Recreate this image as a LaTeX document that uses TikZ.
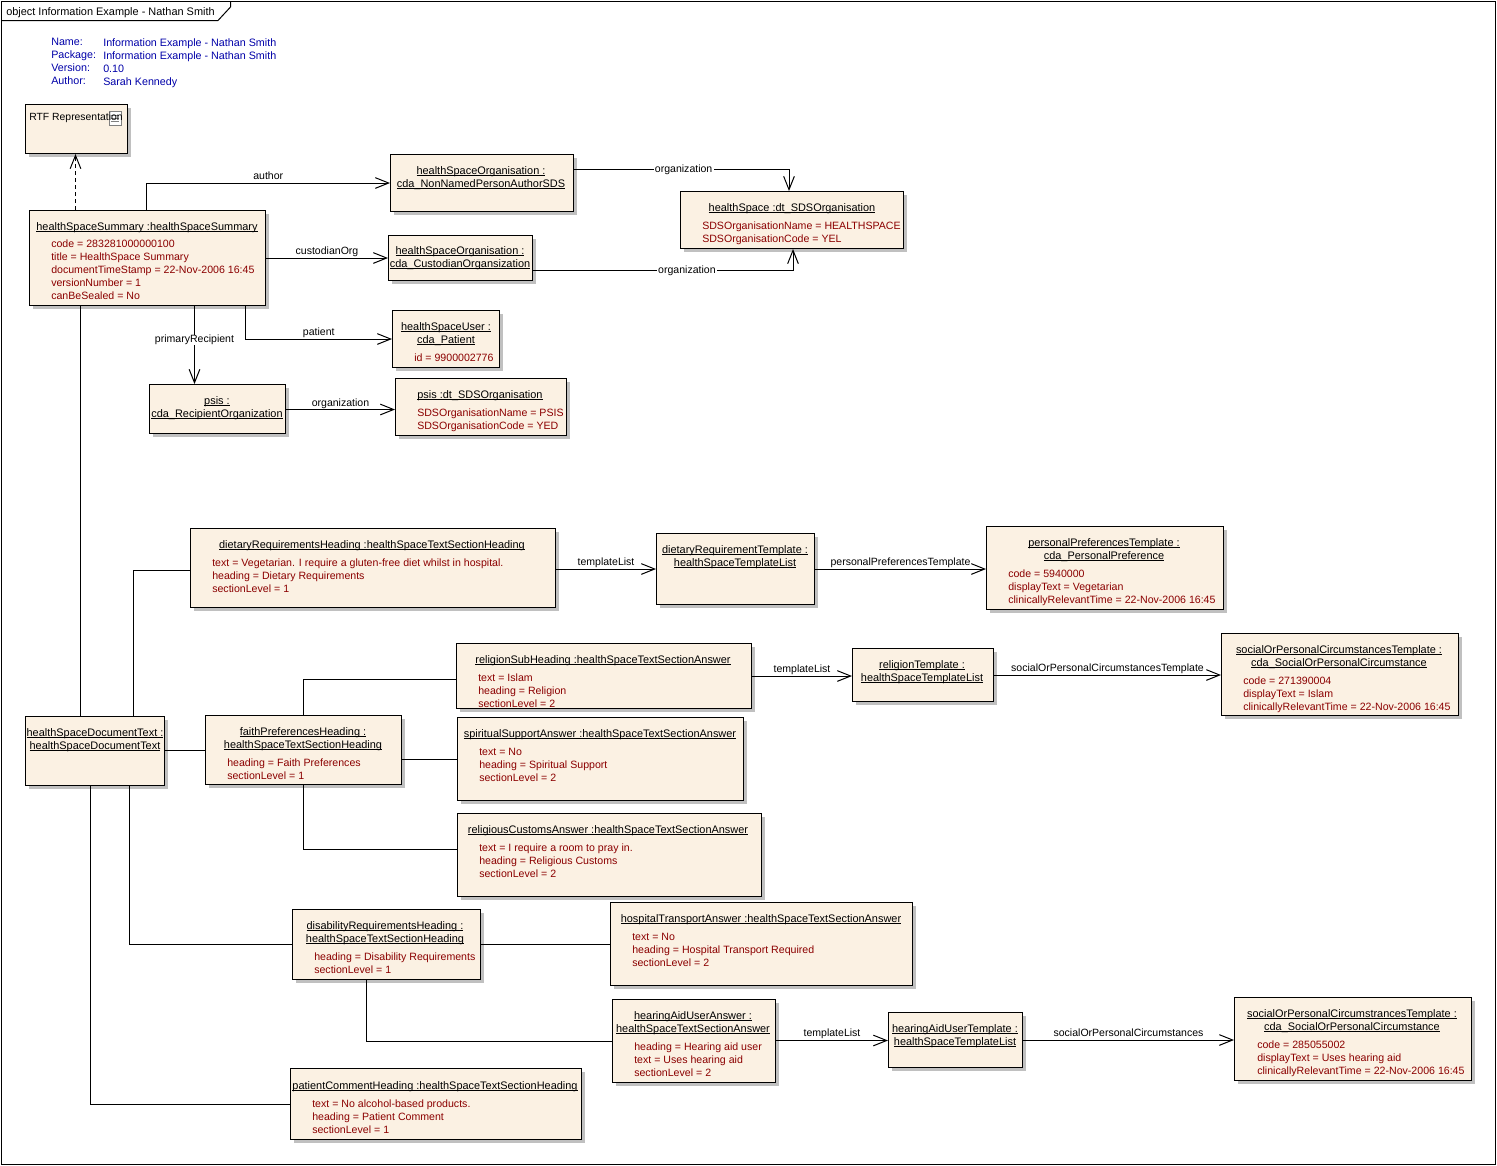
\documentclass[tikz,border=0pt]{standalone}
\usepackage{fontspec}
\setmainfont{Liberation Sans}
\usepackage{xcolor}
\usetikzlibrary{arrows.meta,shadows}
\definecolor{boxfill}{HTML}{FBF1E3}
\definecolor{boxshadow}{HTML}{C0C0C0}
\definecolor{attrred}{HTML}{8B0000}
\definecolor{infoblue}{HTML}{0000A8}
\newcommand{\uname}[1]{\sbox0{#1}\rlap{\rule[-1.6pt]{\wd0}{0.75pt}}\usebox0}
\tikzset{
  objbox/.style 2 args={draw, fill=boxfill, anchor=north west, line width=0.75pt,
    minimum width=0.75pt*(#1-1), minimum height=0.75pt*(#2-1),
    general shadow={shadow xshift=2.25pt, shadow yshift=-2.25pt, fill=boxshadow}},
  objname/.style={anchor=north, align=center, inner sep=0pt, execute at begin node=\vphantom{Ag}},
  objattr/.style={anchor=north west, align=left, inner sep=0pt, text=attrred, yshift=-0.6pt,
    font=\fontsize{7.95}{9.75}\selectfont, execute at begin node=\vphantom{Ag}, execute at end node=\vphantom{Ag}},
  info/.style={anchor=north west, align=left, inner sep=0pt, text=infoblue,
    font=\fontsize{8.05}{9.75}\selectfont, execute at begin node=\vphantom{Ag}, execute at end node=\vphantom{Ag}},
  lblabove/.style={above=0.8pt, inner sep=0pt, text height=6pt, text depth=1.5pt, font=\fontsize{7.9}{9.75}\selectfont},
  lblon/.style={fill=white, inner xsep=1pt, inner ysep=0pt, yshift=-0.3pt, text height=6pt, text depth=1.5pt, font=\fontsize{7.9}{9.75}\selectfont},
  conn/.style={line width=0.75pt}
}
\begin{document}
\begin{tikzpicture}[x=0.75pt, y=-0.75pt, >={Straight Barb[length=10pt,width=8pt]},
    every node/.append style={font=\fontsize{8.2}{9.75}\selectfont}]
	\useasboundingbox (0,0) rectangle (1497,1165);
	% frame and tab
	\draw[conn] (1.5,1.5) rectangle (1495.5,1164);
	\draw[conn] (1.5,20.5) -- (218,20.5) -- (230.5,7) -- (230.5,1.5);
	\node (frameName) [anchor=north west, inner sep=0pt, execute at begin node=\vphantom{Ag}] at (6,7) {object Information Example - Nathan Smith};
	\node (infoKeys) [info] at (51,38) {Name:\\Package:\\Version:\\Author:};
	\node (infoVals) [info] at (103,38) {Information Example - Nathan Smith\\Information Example - Nathan Smith\\0.10\\Sarah Kennedy};

	% upper objects
	\node (rtf) [objbox={103}{50}] at (25,104) {};
	\node (rtfIcon) [draw=gray, fill=white, line width=0.75pt, minimum width=9.5pt, minimum height=10.5pt, inner sep=0pt] at (115.5,118.3) {};
	\draw[gray] (rtfIcon.west)++(1.5pt,-2pt) -- ++(6.5pt,0) (rtfIcon.west)++(1.5pt,0pt) -- ++(6.5pt,0) (rtfIcon.west)++(1.5pt,2pt) -- ++(6.5pt,0);
	\node (rtfT) [anchor=north west, inner sep=0pt, font=\fontsize{7.8}{9.75}\selectfont, execute at begin node=\vphantom{Ag}] at (29,113) {RTF Representation};

	\node (summary) [objbox={237}{96}] at (29,210) {};
	\node (summaryT) [objname] at (147,222) {\uname{healthSpaceSummary :healthSpaceSummary}};
	\node (summaryA) [objattr] at (51,239) {code = 283281000000100\\title = HealthSpace Summary\\documentTimeStamp = 22-Nov-2006 16:45\\versionNumber = 1\\canBeSealed = No};

	\node (orgAuthor) [objbox={184}{58}] at (390,154) {};
	\node (orgAuthorT) [objname] at (481,166) {\uname{healthSpaceOrganisation :}\\\uname{cda\_NonNamedPersonAuthorSDS}};

	\node (orgCust) [objbox={145}{46}] at (388,235) {};
	\node (orgCustT) [objname] at (460,246) {\uname{healthSpaceOrganisation :}\\\uname{cda\_CustodianOrgansization}};

	\node (sdsHealth) [objbox={224}{58}] at (680,191) {};
	\node (sdsHealthT) [objname] at (792,203) {\uname{healthSpace :dt\_SDSOrganisation}};
	\node (sdsHealthA) [objattr] at (702,221) {SDSOrganisationName = HEALTHSPACE\\SDSOrganisationCode = YEL};

	\node (hsUser) [objbox={108}{58}] at (392,310) {};
	\node (hsUserT) [objname] at (446,322) {\uname{healthSpaceUser :}\\\uname{cda\_Patient}};
	\node (hsUserA) [objattr] at (414,353) {id = 9900002776};

	\node (psis) [objbox={137}{50}] at (149,384) {};
	\node (psisT) [objname] at (217,396) {\uname{psis :}\\\uname{cda\_RecipientOrganization}};

	\node (sdsPsis) [objbox={172}{58}] at (395,378) {};
	\node (sdsPsisT) [objname] at (480,390) {\uname{psis :dt\_SDSOrganisation}};
	\node (sdsPsisA) [objattr] at (417,408) {SDSOrganisationName = PSIS\\SDSOrganisationCode = YED};

	% dietary row
	\node (dietary) [objbox={366}{80}] at (190,528) {};
	\node (dietaryT) [objname] at (372,540) {\uname{dietaryRequirementsHeading :healthSpaceTextSectionHeading}};
	\node (dietaryA) [objattr] at (212,558) {text = Vegetarian. I require a gluten-free diet whilst in hospital.\\heading = Dietary Requirements\\sectionLevel = 1};

	\node (dietaryTpl) [objbox={159}{72}] at (656,533) {};
	\node (dietaryTplT) [objname] at (735,545) {\uname{dietaryRequirementTemplate :}\\\uname{healthSpaceTemplateList}};

	\node (personal) [objbox={238}{84}] at (986,526) {};
	\node (personalT) [objname] at (1104,538) {\uname{personalPreferencesTemplate :}\\\uname{cda\_PersonalPreference}};
	\node (personalA) [objattr] at (1008,569) {code = 5940000\\displayText = Vegetarian\\clinicallyRelevantTime = 22-Nov-2006 16:45};

	% faith group
	\node (religionSub) [objbox={296}{66}] at (456,643) {};
	\node (religionSubT) [objname] at (603,655) {\uname{religionSubHeading :healthSpaceTextSectionAnswer}};
	\node (religionSubA) [objattr] at (478,673) {text = Islam\\heading = Religion\\sectionLevel = 2};

	\node (religionTpl) [objbox={142}{54}] at (852,648) {};
	\node (religionTplT) [objname] at (922,660) {\uname{religionTemplate :}\\\uname{healthSpaceTemplateList}};

	\node (socialA) [objbox={238}{83}] at (1221,633) {};
	\node (socialAT) [objname] at (1339,645) {\uname{socialOrPersonalCircumstancesTemplate :}\\\uname{cda\_SocialOrPersonalCircumstance}};
	\node (socialAA) [objattr] at (1243,676) {code = 271390004\\displayText = Islam\\clinicallyRelevantTime = 22-Nov-2006 16:45};

	\node (spiritual) [objbox={287}{84}] at (457,717) {};
	\node (spiritualT) [objname] at (600,729) {\uname{spiritualSupportAnswer :healthSpaceTextSectionAnswer}};
	\node (spiritualA) [objattr] at (479,747) {text = No\\heading = Spiritual Support\\sectionLevel = 2};

	\node (customs) [objbox={305}{84}] at (457,813) {};
	\node (customsT) [objname] at (608,825) {\uname{religiousCustomsAnswer :healthSpaceTextSectionAnswer}};
	\node (customsA) [objattr] at (479,843) {text = I require a room to pray in.\\heading = Religious Customs\\sectionLevel = 2};

	\node (docText) [objbox={140}{70}] at (25,716) {};
	\node (docTextT) [objname] at (95,728) {\uname{healthSpaceDocumentText :}\\\uname{healthSpaceDocumentText}};

	\node (faith) [objbox={197}{70}] at (205,715) {};
	\node (faithT) [objname] at (303,727) {\uname{faithPreferencesHeading :}\\\uname{healthSpaceTextSectionHeading}};
	\node (faithA) [objattr] at (227,758) {heading = Faith Preferences\\sectionLevel = 1};

	% disability group
	\node (disability) [objbox={189}{71}] at (292,909) {};
	\node (disabilityT) [objname] at (385,921) {\uname{disabilityRequirementsHeading :}\\\uname{healthSpaceTextSectionHeading}};
	\node (disabilityA) [objattr] at (314,952) {heading = Disability Requirements\\sectionLevel = 1};

	\node (hospital) [objbox={303}{84}] at (610,902) {};
	\node (hospitalT) [objname] at (761,914) {\uname{hospitalTransportAnswer :healthSpaceTextSectionAnswer}};
	\node (hospitalA) [objattr] at (632,932) {text = No\\heading = Hospital Transport Required\\sectionLevel = 2};

	\node (hearing) [objbox={164}{84}] at (612,999) {};
	\node (hearingT) [objname] at (693,1011) {\uname{hearingAidUserAnswer :}\\\uname{healthSpaceTextSectionAnswer}};
	\node (hearingA) [objattr] at (634,1042) {heading = Hearing aid user\\text = Uses hearing aid\\sectionLevel = 2};

	\node (hearingTpl) [objbox={135}{56}] at (888,1012) {};
	\node (hearingTplT) [objname] at (955,1024) {\uname{hearingAidUserTemplate :}\\\uname{healthSpaceTemplateList}};

	\node (socialB) [objbox={238}{84}] at (1234,997) {};
	\node (socialBT) [objname] at (1352,1009) {\uname{socialOrPersonalCircumstrancesTemplate :}\\\uname{cda\_SocialOrPersonalCircumstance}};
	\node (socialBA) [objattr] at (1257,1040) {code = 285055002\\displayText = Uses hearing aid\\clinicallyRelevantTime = 22-Nov-2006 16:45};

	\node (patient) [objbox={292}{72}] at (290,1068) {};
	\node (patientT) [objname] at (435,1081) {\uname{patientCommentHeading :healthSpaceTextSectionHeading}};
	\node (patientA) [objattr] at (312,1099) {text = No alcohol-based products.\\heading = Patient Comment\\sectionLevel = 1};

	% connectors
	\draw[conn,->,dash pattern=on 3pt off 2.25pt] (summary.north -| 75.5,0) to (rtf.south -| 75.5,0);
	\draw[conn,->] (summary.north -| 146.5,0) |- node[lblabove, pos=0.75] (lAuthor) {author} (orgAuthor.west);
	\draw[conn,->] (summary.east) to node[lblabove] (lCustodian) {custodianOrg} (orgCust.west);
	\draw[conn,->] (summary.south -| 245.5,0) |- node[lblabove, pos=0.75] (lPatient) {patient} (hsUser.west);
	\draw[conn,->] (summary.south -| 194.5,0) to node[lblon, pos=0.43] (lPrimary) {primaryRecipient} (psis.north -| 194.5,0);
	\draw[conn,->] (orgAuthor.east |- 0,169) -| node[lblon, pos=0.255] (lOrgA) {organization} (sdsHealth.north -| 789,0);
	\draw[conn,->] (orgCust.east |- 0,270.5) -| node[lblon, pos=0.296] (lOrgB) {organization} (sdsHealth.south -| 793,0);
	\draw[conn,->] (psis.east |- 0,409.5) to node[lblabove, yshift=-0.5pt] (lOrgC) {organization} (sdsPsis.west |- 0,409.5);
	\draw[conn] (summary.south -| 80.5,0) to (docText.north -| 80.5,0);
	\draw[conn] (docText.north -| 133.5,0) |- (dietary.west |- 0,570);
	\draw[conn] (docText.east |- 0,750.5) to (faith.west |- 0,750.5);
	\draw[conn] (docText.south -| 129.5,0) |- (disability.west);
	\draw[conn] (docText.south -| 90.5,0) |- (patient.west);
	\draw[conn] (faith.north -| 303.5,0) |- (religionSub.west |- 0,679);
	\draw[conn] (faith.east |- 0,759.5) to (spiritual.west |- 0,759.5);
	\draw[conn] (faith.south -| 303.5,0) |- (customs.west |- 0,849);
	\draw[conn] (disability.east |- 0,944.5) to (hospital.west |- 0,944.5);
	\draw[conn] (disability.south -| 366.5,0) |- (hearing.west);
	\draw[conn,->] (dietary.east |- 0,569) to node[lblabove] (lTplA) {templateList} (dietaryTpl.west |- 0,569);
	\draw[conn,->] (dietaryTpl.east |- 0,569) to node[lblabove] (lPers) {personalPreferencesTemplate} (personal.west |- 0,569);
	\draw[conn,->] (religionSub.east |- 0,676) to node[lblabove] (lTplB) {templateList} (religionTpl.west |- 0,676);
	\draw[conn,->] (religionTpl.east |- 0,675) to node[lblabove] (lSocA) {socialOrPersonalCircumstancesTemplate} (socialA.west |- 0,675);
	\draw[conn,->] (hearing.east |- 0,1040.5) to node[lblabove] (lTplC) {templateList} (hearingTpl.west |- 0,1040.5);
	\draw[conn,->] (hearingTpl.east |- 0,1040) to node[lblabove] (lSocB) {socialOrPersonalCircumstances} (socialB.west |- 0,1040);
\end{tikzpicture}
\end{document}
